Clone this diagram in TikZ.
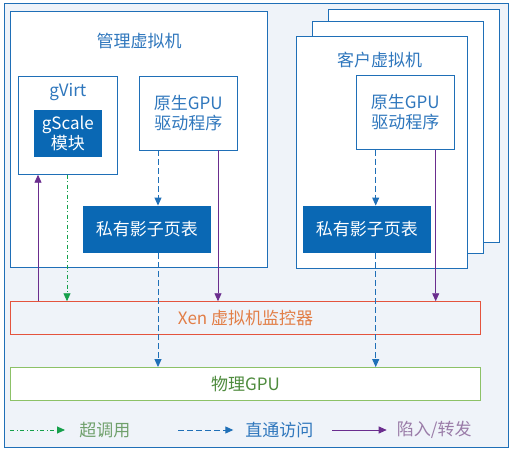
\documentclass[tikz,border=0pt]{standalone}
\usepackage{fontspec}
\setmainfont{Noto Sans CJK SC}
\usepackage{tikz}
\usepackage{xcolor}
\usetikzlibrary{arrows.meta,positioning}
\definecolor{frameblue}{HTML}{1F6FB7}
\definecolor{darkblue}{HTML}{0A68B4}
\definecolor{textblue}{HTML}{2F77BD}
\definecolor{bgblue}{HTML}{EFF3F9}
\definecolor{xenred}{HTML}{E4533D}
\definecolor{xentext}{HTML}{E27E47}
\definecolor{gpugreen}{HTML}{8CC167}
\definecolor{gputext}{HTML}{4E8B3D}
\definecolor{hypgreen}{HTML}{16A04B}
\definecolor{hyptext}{HTML}{6FA06B}
\definecolor{trappurple}{HTML}{6A2D8E}
\definecolor{traptext}{HTML}{9A7CA8}

\begin{document}
\begin{tikzpicture}[x=1pt, y=-1pt, thick,
    box/.style={draw=frameblue, line width=0.8pt, fill=white, inner sep=0pt},
    darkbox/.style={fill=darkblue, text=white, inner sep=0pt, align=center, font=\fontsize{17}{20}\selectfont},
    lbl/.style={text=textblue, inner sep=0pt, align=center, font=\fontsize{17}{20}\selectfont},
    tip/.style={-{Triangle[length=8pt,width=7pt]}},
    hyper/.style={tip, draw=hypgreen, line width=0.9pt, dash pattern=on 4pt off 2.5pt on 1pt off 2.5pt},
    passthru/.style={tip, draw=frameblue, line width=0.9pt, dash pattern=on 6pt off 3pt},
    trap/.style={tip, draw=trappurple, line width=0.9pt}]
            \useasboundingbox (0,0) rectangle (512,450);
            \draw[frameblue, line width=0.8pt, fill=bgblue] (4,3) rectangle (508,447);
            % management vm
            \node[box, minimum width=257pt, minimum height=256pt] (mvm) at (139,139.8) {};
            \node[lbl] (mtitle) at (139,41) {管理虚拟机};
            \node[box, minimum width=99pt, minimum height=98pt] (gvirt) at (67.8,125.3) {};
            \node[lbl] (gvlbl) at (67.8,92) {gVirt};
            \node[darkbox, minimum width=67.7pt, minimum height=46.7pt] (gscale) at (67.8,133.3) {gScale\\模块};
            \node[box, lbl, minimum width=98pt, minimum height=73.7pt] (drv0) at (188.3,113.2) {原生GPU\\驱动程序};
            \node[darkbox, minimum width=127.7pt, minimum height=46.7pt] (spt0) at (146.8,229.3) {私有影子页表};
            % guest vms
            \node[box, minimum width=171pt, minimum height=233pt] (gvm3) at (413.8,125.8) {};
            \node[box, minimum width=171pt, minimum height=232pt] (gvm2) at (397.8,137.3) {};
            \node[box, minimum width=171pt, minimum height=232pt] (gvm1) at (381.8,152) {};
            \node[lbl] (gtitle) at (379.5,60) {客户虚拟机};
            \node[box, lbl, minimum width=98pt, minimum height=74pt] (drv1) at (405.3,112.3) {原生GPU\\驱动程序};
            \node[darkbox, minimum width=127.7pt, minimum height=46.7pt] (spt1) at (366.8,229.3) {私有影子页表};
            % xen and gpu
            \node[draw=xenred, line width=0.8pt, text=xentext, font=\fontsize{17}{20}\selectfont, minimum width=470.4pt, minimum height=32.3pt, inner sep=0pt] (xen) at (245.5,317.8) {Xen 虚拟机监控器};
            \node[draw=gpugreen, line width=0.8pt, fill=white, text=gputext, font=\fontsize{17}{20}\selectfont, minimum width=470.4pt, minimum height=32.7pt, inner sep=0pt, below of=xen, node distance=66pt] (gpu) {物理GPU};
            % connectors
            \draw[passthru] (drv0.south -| 158,0) -- (spt0.north -| 158,0);
            \draw[passthru] (spt0.south -| 158,0) -- (gpu.north -| 158,0);
            \draw[passthru] (drv1.south -| 375.7,0) -- (spt1.north -| 375.7,0);
            \draw[passthru] (spt1.south -| 375.7,0) -- (gpu.north -| 375.7,0);
            \draw[trap] (drv0.south -| 218,0) -- (xen.north -| 218,0);
            \draw[trap] (drv1.south -| 435.7,0) -- (xen.north -| 435.7,0);
            \draw[trap] (xen.north -| 38,0) -- (gvirt.south -| 38,0);
            \draw[hyper] (gvirt.south -| 67,0) -- (xen.north -| 67,0);
            % legend
            \coordinate (lg0) at (10.3,430);
            \coordinate (lg1) at (178.3,430);
            \coordinate (lg2) at (332.3,430);
            \node[lbl, text=hyptext, anchor=west] (lhyper) at (79,430) {超调用};
            \node[lbl, anchor=west] (lpass) at (245,430) {直通访问};
            \node[lbl, text=traptext, anchor=west] (ltrap) at (396.5,430) {陷入/转发};
            \draw[hyper, shorten >=14pt] (lg0) -- (lhyper.west);
            \draw[passthru, shorten >=11.7pt] (lg1) -- (lpass.west);
            \draw[trap, shorten >=9.8pt] (lg2) -- (ltrap.west);
        \end{tikzpicture}
\end{document}
